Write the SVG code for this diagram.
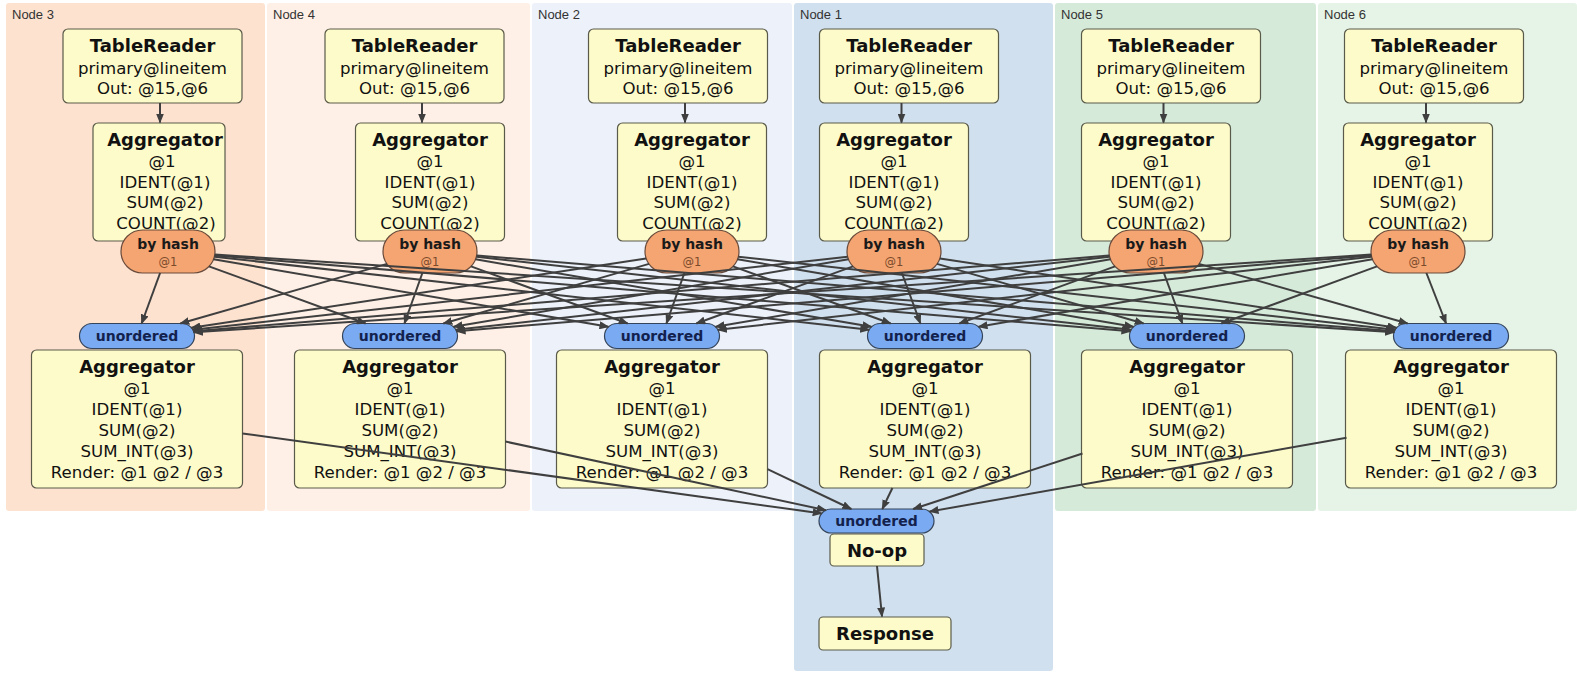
<svg xmlns="http://www.w3.org/2000/svg" width="1577" height="674" viewBox="0 0 1577 674">
<style>
.pl{font-family:"Liberation Sans",Arial,sans-serif;font-size:13px;fill:#333}
.box{fill:#fdfbc9;stroke:#5a5a4a;stroke-width:1.2}
.t{font-family:"DejaVu Sans",Verdana,sans-serif;text-anchor:middle;fill:#111}
.ti{font-size:18px;font-weight:bold}
.b{font-size:16.6px}
.hash{fill:#f4a572;stroke:#6a4a3a;stroke-width:1.2}
.ht{font-size:14px;font-weight:bold;fill:#1a1a1a}
.hs{font-size:11.5px;fill:#7a4a2a}
.uo{fill:#79aaf2;stroke:#34445a;stroke-width:1.2}
.ut{font-size:14px;font-weight:bold;fill:#13214d}
.e{stroke:#3f3f3f;stroke-width:2;fill:none;marker-end:url(#ah)}
</style>
<defs>
<marker id="ah" markerWidth="10" markerHeight="8" refX="9" refY="4" orient="auto" markerUnits="userSpaceOnUse"><path d="M0,0 L10,4 L0,8 z" fill="#3f3f3f"/></marker>
</defs>
<g id="panels">
<g id="panel-node3"><rect x="6" y="3" width="259" height="508" rx="3" fill="#fde2d0"/><text class="pl" x="12" y="19">Node 3</text></g>
<g id="panel-node4"><rect x="267" y="3" width="263" height="508" rx="3" fill="#fef0e6"/><text class="pl" x="273" y="19">Node 4</text></g>
<g id="panel-node2"><rect x="532" y="3" width="260" height="508" rx="3" fill="#ecf1fa"/><text class="pl" x="538" y="19">Node 2</text></g>
<g id="panel-node1"><rect x="794" y="3" width="259" height="668" rx="3" fill="#d1e0ee"/><text class="pl" x="800" y="19">Node 1</text></g>
<g id="panel-node5"><rect x="1055" y="3" width="261" height="508" rx="3" fill="#d6eada"/><text class="pl" x="1061" y="19">Node 5</text></g>
<g id="panel-node6"><rect x="1318" y="3" width="259" height="508" rx="3" fill="#e6f4e7"/><text class="pl" x="1324" y="19">Node 6</text></g>
</g>
<g id="nodes">
<!-- Column Node 3 -->
<g id="tr3"><rect class="box" x="63" y="29" width="179" height="74" rx="5"/><text class="t ti" x="152.5" y="52">TableReader</text><text class="t b" x="152.5" y="74">primary@lineitem</text><text class="t b" x="152.5" y="94">Out: @15,@6</text></g>
<g id="agg3"><rect class="box" x="93" y="123" width="132" height="118" rx="5"/><text class="t ti" x="165" y="146">Aggregator</text><text class="t b" x="162" y="167">@1</text><text class="t b" x="165" y="188">IDENT(@1)</text><text class="t b" x="165" y="208">SUM(@2)</text><text class="t b" x="166" y="229">COUNT(@2)</text></g>
<g id="hash3"><rect class="hash" x="121" y="230" width="94" height="43" rx="21.5"/><text class="t ht" x="168" y="249">by hash</text><text class="t hs" x="168" y="266">@1</text></g>
<g id="uo3"><rect class="uo" x="79.5" y="323.5" width="115" height="25" rx="12.5"/><text class="t ut" x="137" y="341">unordered</text></g>
<g id="fin3"><rect class="box" x="31.5" y="350" width="211" height="138" rx="5"/><text class="t ti" x="137" y="373">Aggregator</text><text class="t b" x="137" y="394">@1</text><text class="t b" x="137" y="415">IDENT(@1)</text><text class="t b" x="137" y="436">SUM(@2)</text><text class="t b" x="137" y="457">SUM_INT(@3)</text><text class="t b" x="137" y="478">Render: @1 @2 / @3</text></g>
<!-- Column Node 4 -->
<g id="tr4"><rect class="box" x="325" y="29" width="179" height="74" rx="5"/><text class="t ti" x="414.5" y="52">TableReader</text><text class="t b" x="414.5" y="74">primary@lineitem</text><text class="t b" x="414.5" y="94">Out: @15,@6</text></g>
<g id="agg4"><rect class="box" x="355.5" y="123" width="149" height="118" rx="5"/><text class="t ti" x="430" y="146">Aggregator</text><text class="t b" x="430" y="167">@1</text><text class="t b" x="430" y="188">IDENT(@1)</text><text class="t b" x="430" y="208">SUM(@2)</text><text class="t b" x="430" y="229">COUNT(@2)</text></g>
<g id="hash4"><rect class="hash" x="383" y="230" width="94" height="43" rx="21.5"/><text class="t ht" x="430" y="249">by hash</text><text class="t hs" x="430" y="266">@1</text></g>
<g id="uo4"><rect class="uo" x="342.5" y="323.5" width="115" height="25" rx="12.5"/><text class="t ut" x="400" y="341">unordered</text></g>
<g id="fin4"><rect class="box" x="294.5" y="350" width="211" height="138" rx="5"/><text class="t ti" x="400" y="373">Aggregator</text><text class="t b" x="400" y="394">@1</text><text class="t b" x="400" y="415">IDENT(@1)</text><text class="t b" x="400" y="436">SUM(@2)</text><text class="t b" x="400" y="457">SUM_INT(@3)</text><text class="t b" x="400" y="478">Render: @1 @2 / @3</text></g>
<!-- Column Node 2 -->
<g id="tr2"><rect class="box" x="588.5" y="29" width="179" height="74" rx="5"/><text class="t ti" x="678" y="52">TableReader</text><text class="t b" x="678" y="74">primary@lineitem</text><text class="t b" x="678" y="94">Out: @15,@6</text></g>
<g id="agg2"><rect class="box" x="617.5" y="123" width="149" height="118" rx="5"/><text class="t ti" x="692" y="146">Aggregator</text><text class="t b" x="692" y="167">@1</text><text class="t b" x="692" y="188">IDENT(@1)</text><text class="t b" x="692" y="208">SUM(@2)</text><text class="t b" x="692" y="229">COUNT(@2)</text></g>
<g id="hash2"><rect class="hash" x="645" y="230" width="94" height="43" rx="21.5"/><text class="t ht" x="692" y="249">by hash</text><text class="t hs" x="692" y="266">@1</text></g>
<g id="uo2"><rect class="uo" x="604.5" y="323.5" width="115" height="25" rx="12.5"/><text class="t ut" x="662" y="341">unordered</text></g>
<g id="fin2"><rect class="box" x="556.5" y="350" width="211" height="138" rx="5"/><text class="t ti" x="662" y="373">Aggregator</text><text class="t b" x="662" y="394">@1</text><text class="t b" x="662" y="415">IDENT(@1)</text><text class="t b" x="662" y="436">SUM(@2)</text><text class="t b" x="662" y="457">SUM_INT(@3)</text><text class="t b" x="662" y="478">Render: @1 @2 / @3</text></g>
<!-- Column Node 1 -->
<g id="tr1"><rect class="box" x="819.5" y="29" width="179" height="74" rx="5"/><text class="t ti" x="909" y="52">TableReader</text><text class="t b" x="909" y="74">primary@lineitem</text><text class="t b" x="909" y="94">Out: @15,@6</text></g>
<g id="agg1"><rect class="box" x="819.5" y="123" width="149" height="118" rx="5"/><text class="t ti" x="894" y="146">Aggregator</text><text class="t b" x="894" y="167">@1</text><text class="t b" x="894" y="188">IDENT(@1)</text><text class="t b" x="894" y="208">SUM(@2)</text><text class="t b" x="894" y="229">COUNT(@2)</text></g>
<g id="hash1"><rect class="hash" x="847" y="230" width="94" height="43" rx="21.5"/><text class="t ht" x="894" y="249">by hash</text><text class="t hs" x="894" y="266">@1</text></g>
<g id="uo1"><rect class="uo" x="867.5" y="323.5" width="115" height="25" rx="12.5"/><text class="t ut" x="925" y="341">unordered</text></g>
<g id="fin1"><rect class="box" x="819.5" y="350" width="211" height="138" rx="5"/><text class="t ti" x="925" y="373">Aggregator</text><text class="t b" x="925" y="394">@1</text><text class="t b" x="925" y="415">IDENT(@1)</text><text class="t b" x="925" y="436">SUM(@2)</text><text class="t b" x="925" y="457">SUM_INT(@3)</text><text class="t b" x="925" y="478">Render: @1 @2 / @3</text></g>
<!-- Column Node 5 -->
<g id="tr5"><rect class="box" x="1081.5" y="29" width="179" height="74" rx="5"/><text class="t ti" x="1171" y="52">TableReader</text><text class="t b" x="1171" y="74">primary@lineitem</text><text class="t b" x="1171" y="94">Out: @15,@6</text></g>
<g id="agg5"><rect class="box" x="1081.5" y="123" width="149" height="118" rx="5"/><text class="t ti" x="1156" y="146">Aggregator</text><text class="t b" x="1156" y="167">@1</text><text class="t b" x="1156" y="188">IDENT(@1)</text><text class="t b" x="1156" y="208">SUM(@2)</text><text class="t b" x="1156" y="229">COUNT(@2)</text></g>
<g id="hash5"><rect class="hash" x="1109" y="230" width="94" height="43" rx="21.5"/><text class="t ht" x="1156" y="249">by hash</text><text class="t hs" x="1156" y="266">@1</text></g>
<g id="uo5"><rect class="uo" x="1129.5" y="323.5" width="115" height="25" rx="12.5"/><text class="t ut" x="1187" y="341">unordered</text></g>
<g id="fin5"><rect class="box" x="1081.5" y="350" width="211" height="138" rx="5"/><text class="t ti" x="1187" y="373">Aggregator</text><text class="t b" x="1187" y="394">@1</text><text class="t b" x="1187" y="415">IDENT(@1)</text><text class="t b" x="1187" y="436">SUM(@2)</text><text class="t b" x="1187" y="457">SUM_INT(@3)</text><text class="t b" x="1187" y="478">Render: @1 @2 / @3</text></g>
<!-- Column Node 6 -->
<g id="tr6"><rect class="box" x="1344.5" y="29" width="179" height="74" rx="5"/><text class="t ti" x="1434" y="52">TableReader</text><text class="t b" x="1434" y="74">primary@lineitem</text><text class="t b" x="1434" y="94">Out: @15,@6</text></g>
<g id="agg6"><rect class="box" x="1343.5" y="123" width="149" height="118" rx="5"/><text class="t ti" x="1418" y="146">Aggregator</text><text class="t b" x="1418" y="167">@1</text><text class="t b" x="1418" y="188">IDENT(@1)</text><text class="t b" x="1418" y="208">SUM(@2)</text><text class="t b" x="1418" y="229">COUNT(@2)</text></g>
<g id="hash6"><rect class="hash" x="1371" y="230" width="94" height="43" rx="21.5"/><text class="t ht" x="1418" y="249">by hash</text><text class="t hs" x="1418" y="266">@1</text></g>
<g id="uo6"><rect class="uo" x="1393.5" y="323.5" width="115" height="25" rx="12.5"/><text class="t ut" x="1451" y="341">unordered</text></g>
<g id="fin6"><rect class="box" x="1345.5" y="350" width="211" height="138" rx="5"/><text class="t ti" x="1451" y="373">Aggregator</text><text class="t b" x="1451" y="394">@1</text><text class="t b" x="1451" y="415">IDENT(@1)</text><text class="t b" x="1451" y="436">SUM(@2)</text><text class="t b" x="1451" y="457">SUM_INT(@3)</text><text class="t b" x="1451" y="478">Render: @1 @2 / @3</text></g>
<!-- Final -->
<g id="uo-final"><rect class="uo" x="819" y="509" width="115" height="24" rx="12"/><text class="t ut" x="876.5" y="526">unordered</text></g>
<g id="noop"><rect class="box" x="830" y="534" width="94" height="32" rx="4"/><text class="t ti" x="877" y="557">No-op</text></g>
<g id="response"><rect class="box" x="819" y="617" width="132" height="33" rx="4"/><text class="t ti" x="885" y="640">Response</text></g>
</g>
<g id="connectors">
<line class="e" x1="160" y1="103" x2="160" y2="122.5"/>
<line class="e" x1="422" y1="103" x2="422" y2="122.5"/>
<line class="e" x1="685" y1="103" x2="685" y2="122.5"/>
<line class="e" x1="901.5" y1="103" x2="901.5" y2="122.5"/>
<line class="e" x1="1163.5" y1="103" x2="1163.5" y2="122.5"/>
<line class="e" x1="1426" y1="103" x2="1426" y2="122.5"/>
<line class="e" x1="160.1" y1="273" x2="141.6" y2="323.5"/>
<line class="e" x1="209" y1="266.4" x2="365.7" y2="323.5"/>
<line class="e" x1="213.5" y1="259.3" x2="608.5" y2="326.8"/>
<line class="e" x1="214.4" y1="256.7" x2="869.2" y2="329.8"/>
<line class="e" x1="214.7" y1="255.4" x2="1130.4" y2="331.3"/>
<line class="e" x1="214.8" y1="254.6" x2="1394.1" y2="332.3"/>
<line class="e" x1="387" y1="263.9" x2="180.3" y2="323.5"/>
<line class="e" x1="422.4" y1="273" x2="404.4" y2="323.5"/>
<line class="e" x1="471" y1="266.4" x2="627.7" y2="323.5"/>
<line class="e" x1="475.5" y1="259.3" x2="871.5" y2="326.8"/>
<line class="e" x1="476.4" y1="256.7" x2="1131.2" y2="329.8"/>
<line class="e" x1="476.7" y1="255.4" x2="1394.4" y2="331.3"/>
<line class="e" x1="646.1" y1="258.5" x2="191.4" y2="327.8"/>
<line class="e" x1="649" y1="263.9" x2="443.3" y2="323.5"/>
<line class="e" x1="684.4" y1="273" x2="666.4" y2="323.5"/>
<line class="e" x1="733" y1="266.4" x2="890.7" y2="323.5"/>
<line class="e" x1="737.5" y1="259.3" x2="1133.5" y2="326.8"/>
<line class="e" x1="738.4" y1="256.7" x2="1395.2" y2="329.8"/>
<line class="e" x1="847.6" y1="256.7" x2="192.8" y2="329.8"/>
<line class="e" x1="848.5" y1="259.3" x2="453.5" y2="326.8"/>
<line class="e" x1="853" y1="266.4" x2="696.3" y2="323.5"/>
<line class="e" x1="901.9" y1="273" x2="920.4" y2="323.5"/>
<line class="e" x1="937" y1="263.9" x2="1143.7" y2="323.5"/>
<line class="e" x1="939.9" y1="258.5" x2="1396.6" y2="327.8"/>
<line class="e" x1="1109.3" y1="255.4" x2="193.6" y2="331.3"/>
<line class="e" x1="1109.6" y1="256.7" x2="455.8" y2="329.8"/>
<line class="e" x1="1110.5" y1="259.3" x2="715.5" y2="326.8"/>
<line class="e" x1="1115" y1="266.4" x2="959.3" y2="323.5"/>
<line class="e" x1="1163.9" y1="273" x2="1182.4" y2="323.5"/>
<line class="e" x1="1199" y1="263.9" x2="1407.7" y2="323.5"/>
<line class="e" x1="1371.2" y1="254.6" x2="193.9" y2="332.3"/>
<line class="e" x1="1371.4" y1="255.4" x2="456.6" y2="331.3"/>
<line class="e" x1="1371.6" y1="256.7" x2="717.8" y2="329.8"/>
<line class="e" x1="1372.5" y1="259.3" x2="978.5" y2="326.8"/>
<line class="e" x1="1377" y1="266.4" x2="1221.3" y2="323.5"/>
<line class="e" x1="1426.4" y1="273" x2="1446.1" y2="323.5"/>
<line class="e" x1="242.5" y1="433.5" x2="821.7" y2="513.4"/>
<line class="e" x1="505.5" y1="441.6" x2="825.9" y2="510.2"/>
<line class="e" x1="767.5" y1="469.2" x2="851.3" y2="509"/>
<line class="e" x1="892.4" y1="488" x2="882.3" y2="509"/>
<line class="e" x1="1082.5" y1="453.5" x2="913.2" y2="509"/>
<line class="e" x1="1346.5" y1="437.7" x2="929.5" y2="511.6"/>
<line class="e" x1="877" y1="566" x2="882" y2="616.5"/>
</g>
</svg>
